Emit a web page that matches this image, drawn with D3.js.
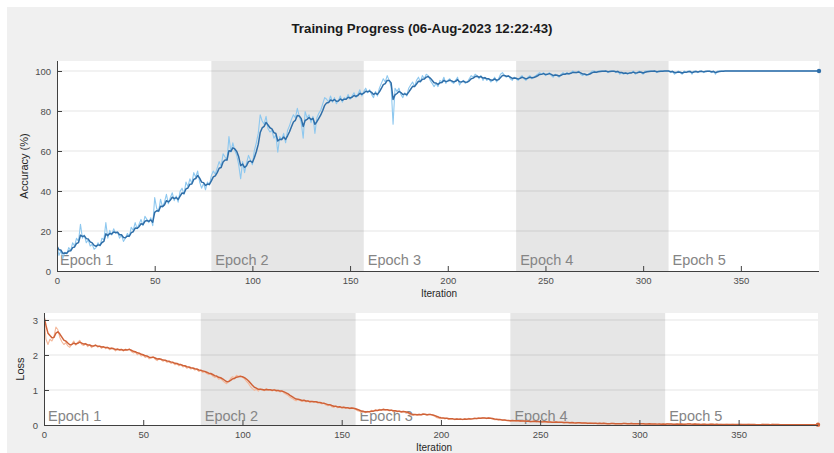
<!DOCTYPE html>
<html>
<head>
<meta charset="utf-8">
<script src="https://cdn.jsdelivr.net/npm/d3@7"></script>
<style>
  html, body { margin: 0; padding: 0; background: #ffffff; }
  svg { display: block; font-family: "Liberation Sans", Arial, Helvetica, sans-serif; }
</style>
</head>
<body>
<svg id="chart" width="834" height="453"></svg>
<script>
// ---- data ----
const titleText = "Training Progress (06-Aug-2023 12:22:43)";
const epochLabels = ["Epoch 1", "Epoch 2", "Epoch 3", "Epoch 4", "Epoch 5"];
const epochStarts = [0, 79, 157, 235, 313];
const iterMax = 390;
const iterTicks = [0, 50, 100, 150, 200, 250, 300, 350];
const accTicks = [0, 20, 40, 60, 80, 100];
const lossTicks = [0, 1, 2, 3];

// mini-batch accuracy (%) per iteration 0..390
const accuracyRaw = [
  12.5, 7.8, 10.2, 6.3, 9.4, 8.6, 11.7, 10.2, 14.1, 12.5,
  16.4, 14.8, 23.4, 16.4, 18.0, 14.1, 15.6, 12.5, 13.3, 10.9,
  11.7, 14.1, 12.5, 16.4, 15.6, 24.2, 16.4, 20.3, 18.0, 21.1,
  18.8, 19.5, 16.4, 18.0, 14.8, 16.4, 18.8, 17.2, 21.9, 20.3,
  24.2, 21.1, 23.4, 25.8, 22.7, 27.3, 25.8, 24.2, 26.6, 22.7,
  36.7, 31.3, 29.7, 35.9, 32.0, 34.4, 38.3, 33.6, 36.7, 39.1,
  35.2, 37.5, 34.4, 39.8, 41.4, 38.3, 44.5, 42.2, 46.1, 43.8,
  49.2, 46.9, 50.0, 44.5, 41.4, 43.8, 40.6, 44.5, 43.0, 47.7,
  50.0, 48.4, 51.6, 54.7, 52.3, 58.6, 57.0, 55.5, 67.2, 59.4,
  64.1, 60.2, 57.8, 53.1, 46.1, 54.7, 49.2, 53.9, 57.8, 55.5,
  53.1, 60.2, 64.1, 68.8, 78.1, 75.0, 73.4, 77.3, 71.1, 69.5,
  70.3, 66.4, 68.0, 59.4, 67.2, 65.6, 68.8, 64.1, 70.3, 72.7,
  75.8, 78.1, 76.6, 81.3, 77.3, 74.2, 66.4, 79.7, 76.6, 78.1,
  74.2, 77.3, 68.8, 76.6, 78.9, 80.5, 83.6, 86.7, 85.9, 84.4,
  87.5, 84.4, 86.7, 83.6, 85.2, 87.5, 84.4, 86.7, 85.9, 88.3,
  85.9, 87.5, 89.1, 86.7, 88.3, 90.6, 87.5, 89.8, 91.4, 89.1,
  90.6, 88.3, 86.7, 89.8, 87.5, 91.4, 93.8, 96.1, 94.5, 97.7,
  95.3, 92.2, 73.4, 91.4, 89.8, 91.4, 88.3, 86.7, 89.1, 87.5,
  91.4, 93.0, 94.5, 92.2, 95.3, 96.9, 94.5, 97.7, 96.1, 98.4,
  97.7, 95.3, 93.8, 92.2, 93.8, 92.2, 95.3, 94.5, 96.9, 93.8,
  95.3, 96.1, 94.5, 93.8, 95.3, 96.9, 93.0, 94.5, 95.3, 93.8,
  94.5, 96.1, 97.7, 96.9, 98.4, 97.7, 96.1, 97.7, 95.3, 96.9,
  95.3, 96.1, 94.5, 95.3, 96.9, 94.5, 96.1, 98.4, 99.2, 97.7,
  96.9, 97.7, 96.1, 95.3, 96.9, 96.1, 95.3, 96.9, 97.7, 96.1,
  95.3, 96.9, 97.7, 96.1, 96.9, 97.7, 98.4, 99.2, 98.4, 99.2,
  97.7, 98.4, 99.2, 97.7, 96.9, 98.4, 97.7, 96.9, 98.4, 99.2,
  98.4, 99.2, 98.4, 99.2, 100, 99.2, 99.2, 100, 98.4, 97.7,
  98.4, 97.7, 98.4, 99.2, 100, 100, 99.2, 100, 100, 100,
  100, 100, 99.2, 100, 100, 100, 99.2, 100, 98.4, 99.2,
  98.4, 99.2, 98.4, 99.2, 99.2, 100, 98.4, 99.2, 100, 99.2,
  98.4, 100, 100, 100, 100, 100, 100, 99.2, 100, 100,
  100, 100, 100, 100, 99.2, 100, 98.4, 99.2, 100, 99.2,
  98.4, 100, 99.2, 100, 100, 98.4, 100, 100, 99.2, 100,
  100, 99.2, 100, 100, 100, 99.2, 100, 98.4, 100, 100,
  100, 100, 100, 100, 100, 100, 100, 100, 100, 100,
  100, 100, 100, 100, 100, 100, 100, 100, 100, 100,
  100, 100, 100, 100, 100, 100, 100, 100, 100, 100,
  100, 100, 100, 100, 100, 100, 100, 100, 100, 100,
  100, 100, 100, 100, 100, 100, 100, 100, 100, 100,
  100
];

// mini-batch loss per iteration 0..390
const lossRaw = [
  3.10, 2.45, 2.30, 2.45, 2.40, 2.52, 2.80, 2.72, 2.50, 2.38,
  2.30, 2.35, 2.26, 2.22, 2.31, 2.40, 2.28, 2.36, 2.42, 2.30,
  2.27, 2.33, 2.24, 2.29, 2.21, 2.26, 2.30, 2.22, 2.25, 2.19,
  2.24, 2.18, 2.22, 2.15, 2.20, 2.17, 2.12, 2.18, 2.13, 2.16,
  2.11, 2.17, 2.14, 2.18, 2.10, 2.06, 2.08, 2.01, 2.04, 1.97,
  1.99, 1.93, 1.96, 1.89, 1.92, 1.95, 1.88, 1.84, 1.90, 1.86,
  1.82, 1.85, 1.79, 1.81, 1.76, 1.78, 1.72, 1.75, 1.69, 1.72,
  1.66, 1.68, 1.62, 1.65, 1.60, 1.62, 1.57, 1.59, 1.53, 1.56,
  1.50, 1.52, 1.47, 1.44, 1.46, 1.40, 1.36, 1.38, 1.31, 1.33,
  1.27, 1.22, 1.18, 1.24, 1.33, 1.38, 1.35, 1.42, 1.39, 1.41,
  1.36, 1.32, 1.25, 1.19, 1.10, 1.04, 0.99, 1.02, 0.97, 1.03,
  1.00, 0.98, 1.04, 0.99, 1.01, 0.97, 1.02, 0.96, 0.99, 0.94,
  0.97, 0.91, 0.88, 0.84, 0.79, 0.76, 0.72, 0.69, 0.73, 0.70,
  0.67, 0.71, 0.66, 0.69, 0.64, 0.68, 0.65, 0.67, 0.62, 0.64,
  0.60, 0.62, 0.57, 0.55, 0.58, 0.52, 0.50, 0.54, 0.49, 0.52,
  0.48, 0.51, 0.47, 0.50, 0.46, 0.49, 0.47, 0.44, 0.41, 0.39,
  0.36, 0.38, 0.35, 0.39, 0.37, 0.42, 0.40, 0.44, 0.41, 0.45,
  0.43, 0.46, 0.42, 0.44, 0.40, 0.43, 0.38, 0.41, 0.37, 0.40,
  0.36, 0.39, 0.37, 0.35, 0.31, 0.28, 0.27, 0.30, 0.28, 0.31,
  0.29, 0.33, 0.30, 0.28, 0.31, 0.29, 0.27, 0.24, 0.21, 0.19,
  0.18, 0.20, 0.17, 0.19, 0.16, 0.18, 0.17, 0.15, 0.18, 0.16,
  0.17, 0.15, 0.18, 0.16, 0.19, 0.17, 0.18, 0.20, 0.18, 0.21,
  0.19, 0.21, 0.20, 0.18, 0.21, 0.19, 0.17, 0.15, 0.16, 0.14,
  0.15, 0.13, 0.14, 0.12, 0.13, 0.11, 0.13, 0.12, 0.11, 0.12,
  0.10, 0.12, 0.11, 0.10, 0.11, 0.09, 0.10, 0.11, 0.09, 0.10,
  0.09, 0.08, 0.10, 0.09, 0.08, 0.09, 0.07, 0.08, 0.09, 0.07,
  0.08, 0.07, 0.06, 0.08, 0.07, 0.06, 0.07, 0.05, 0.06, 0.07,
  0.06, 0.05, 0.06, 0.05, 0.04, 0.06, 0.05, 0.04, 0.05, 0.04,
  0.05, 0.04, 0.05, 0.04, 0.03, 0.04, 0.05, 0.04, 0.03, 0.04,
  0.04, 0.03, 0.05, 0.04, 0.03, 0.04, 0.05, 0.03, 0.04, 0.03,
  0.03, 0.04, 0.03, 0.02, 0.03, 0.04, 0.03, 0.02, 0.03, 0.02,
  0.03, 0.02, 0.03, 0.02, 0.04, 0.02, 0.03, 0.02, 0.02, 0.03,
  0.02, 0.03, 0.02, 0.02, 0.03, 0.04, 0.02, 0.02, 0.03, 0.02,
  0.02, 0.01, 0.02, 0.02, 0.01, 0.02, 0.03, 0.02, 0.01, 0.02,
  0.01, 0.02, 0.01, 0.01, 0.02, 0.01, 0.01, 0.02, 0.01, 0.01,
  0.01, 0.02, 0.01, 0.01, 0.01, 0.02, 0.01, 0.01, 0.01, 0.01,
  0.01, 0.01, 0.02, 0.01, 0.01, 0.01, 0.01, 0.02, 0.01, 0.01,
  0.01, 0.01, 0.01, 0.01, 0.01, 0.01, 0.01, 0.01, 0.01, 0.01,
  0.01, 0.01, 0.01, 0.01, 0.01, 0.01, 0.01, 0.01, 0.01, 0.01,
  0.01
];

// exponential smoothing of a training metric (as in the training monitor)
function smooth(values, factor) {
  const out = [];
  let s = values[0];
  values.forEach((v, i) => {
    s = i === 0 ? v : factor * s + (1 - factor) * v;
    out.push(s);
  });
  return out;
}

const svg = d3.select("#chart");

// figure background
svg.append("rect").attr("x", 7).attr("y", 7).attr("width", 827).attr("height", 446).attr("fill", "#f0f0f0");

svg.append("text")
  .attr("x", 422).attr("y", 33)
  .attr("text-anchor", "middle")
  .attr("font-size", 12).attr("font-weight", "bold")
  .attr("fill", "#1a1a1a")
  .attr("textLength", 261).attr("lengthAdjust", "spacingAndGlyphs")
  .text(titleText);

function panel(cfg) {
  const x = d3.scaleLinear().domain([0, iterMax]).range([cfg.left, cfg.right]);
  const y = d3.scaleLinear().domain(cfg.yDomain).range([cfg.bottom, cfg.top]);
  const g = svg.append("g");
  const clipId = "clip-" + cfg.name;

  g.append("clipPath").attr("id", clipId)
    .append("rect").attr("x", cfg.left).attr("y", cfg.top)
    .attr("width", cfg.right - cfg.left).attr("height", cfg.bottom - cfg.top);

  // plot area
  g.append("rect").attr("x", cfg.left).attr("y", cfg.top)
    .attr("width", cfg.right - cfg.left).attr("height", cfg.bottom - cfg.top)
    .attr("fill", "#ffffff");

  // alternate epoch shading
  const epochEnds = epochStarts.slice(1).concat([iterMax]);
  g.selectAll("rect.epoch")
    .data(epochStarts.map((s, i) => ({ s, e: epochEnds[i], i })).filter(d => d.i % 2 === 1))
    .join("rect").attr("class", "epoch")
    .attr("x", d => x(d.s)).attr("y", cfg.top)
    .attr("width", d => x(d.e) - x(d.s)).attr("height", cfg.bottom - cfg.top)
    .attr("fill", "#e6e6e6");

  // horizontal grid
  g.selectAll("line.grid")
    .data(cfg.ticks.filter(t => t > 0))
    .join("line").attr("class", "grid")
    .attr("x1", cfg.left).attr("x2", cfg.right)
    .attr("y1", d => y(d)).attr("y2", d => y(d))
    .attr("stroke", "#000").attr("stroke-opacity", 0.1).attr("stroke-width", 1);

  // epoch labels
  g.selectAll("text.epoch")
    .data(epochStarts)
    .join("text").attr("class", "epoch")
    .attr("x", (d, i) => x(d) + (i === 0 ? cfg.firstPad : 4))
    .attr("y", cfg.labelY)
    .attr("font-size", 14.5)
    .attr("fill", "#858585")
    .text((d, i) => epochLabels[i]);

  // raw and smoothed curves
  const line = d3.line().x((d, i) => x(i)).y(d => y(d));
  const lines = g.append("g").attr("clip-path", `url(#${clipId})`);
  lines.append("path").datum(cfg.raw)
    .attr("d", line).attr("fill", "none")
    .attr("stroke", cfg.rawColor).attr("stroke-width", 1.1).attr("stroke-linejoin", "round");
  const sm = smooth(cfg.raw, 0.6);
  lines.append("path").datum(sm)
    .attr("d", line).attr("fill", "none")
    .attr("stroke", cfg.color).attr("stroke-width", 1.5).attr("stroke-linejoin", "round");
  g.append("circle")
    .attr("cx", x(iterMax)).attr("cy", y(sm[sm.length - 1]))
    .attr("r", 2.2).attr("fill", cfg.color);

  // axes
  const xAxis = d3.axisBottom(x).tickValues(iterTicks).tickSizeInner(-5).tickSizeOuter(0).tickPadding(6);
  const yAxis = d3.axisLeft(y).tickValues(cfg.ticks).tickFormat(d3.format("d"))
    .tickSizeInner(-5).tickSizeOuter(0).tickPadding(6);
  const gx = g.append("g").attr("transform", `translate(0,${cfg.bottom})`).call(xAxis);
  const gy = g.append("g").attr("transform", `translate(${cfg.left},0)`).call(yAxis);
  [gx, gy].forEach(a => {
    a.select(".domain").attr("stroke", "#404040");
    a.selectAll(".tick line").attr("stroke", "#404040");
    a.selectAll(".tick text").attr("fill", "#4d4d4d").attr("font-size", 9.5)
      .attr("font-family", "'Liberation Sans', Arial, sans-serif");
  });
  gy.select(".domain").attr("d", `M0.5,${cfg.top}V${cfg.bottom}`);
  gx.select(".domain").attr("d", `M${cfg.left},0.5H${cfg.right}`);

  // axis titles
  g.append("text")
    .attr("x", (cfg.left + cfg.right) / 2 + cfg.xLabelShift).attr("y", cfg.xLabelY)
    .attr("text-anchor", "middle").attr("font-size", 10).attr("fill", "#262626")
    .text("Iteration");
  g.append("text")
    .attr("transform", `translate(${cfg.yLabelX},${(cfg.top + cfg.bottom) / 2}) rotate(-90)`)
    .attr("text-anchor", "middle").attr("font-size", 11).attr("fill", "#262626")
    .text(cfg.yLabel);
}

panel({
  name: "acc", left: 57, right: 819, top: 61, bottom: 271,
  yDomain: [0, 105], ticks: accTicks, raw: accuracyRaw,
  color: "#2f6ea8", rawColor: "#8ec8ef",
  labelY: 265, firstPad: 3, xLabelY: 297, xLabelShift: 1, yLabelX: 28,
  yLabel: "Accuracy (%)"
});

panel({
  name: "loss", left: 44, right: 818, top: 313, bottom: 425,
  yDomain: [0, 3.2], ticks: lossTicks, raw: lossRaw,
  color: "#cf6238", rawColor: "#f5b89a",
  labelY: 421, firstPad: 4, xLabelY: 451, xLabelShift: 3, yLabelX: 24,
  yLabel: "Loss"
});
</script>
</body>
</html>
